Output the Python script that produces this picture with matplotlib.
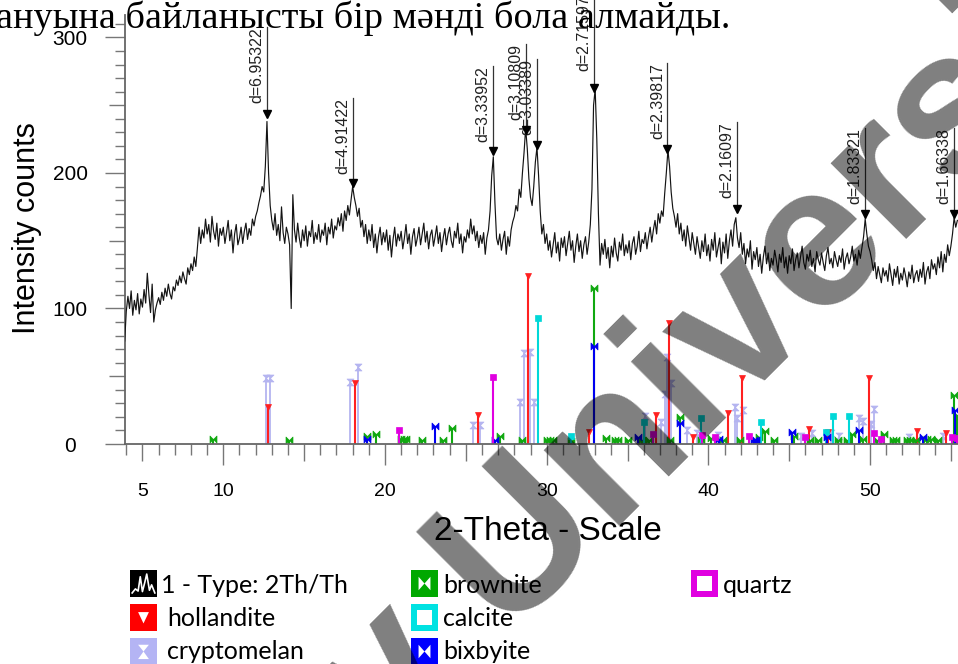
import numpy as np
import matplotlib
matplotlib.use('Agg')
import matplotlib.pyplot as plt
from matplotlib.path import Path
from matplotlib.patches import Rectangle, Polygon

# ------------------------------------------------------------------ data
scan_start, scan_step = 3.9, 0.1
intensity = [76,
    98, 109, 100, 113, 95, 106, 99, 111, 96, 107,      # 4
    101, 114, 104, 126, 110, 97, 118, 90, 99, 104,     # 5
    108, 103, 112, 106, 115, 109, 118, 111, 107, 116,  # 6
    113, 121, 117, 124, 119, 127, 122, 118, 130, 125,  # 7
    133, 128, 138, 131, 145, 160, 148, 158, 152, 166,  # 8
    155, 162, 149, 168, 157, 151, 163, 146, 159, 154,  # 9
    160, 148, 156, 165, 150, 158, 141, 155, 162, 147,  # 10
    152, 160, 148, 157, 163, 151, 159, 154, 166, 161,  # 11
    168, 172, 178, 183, 190, 186, 205, 238, 200, 176,  # 12
    165, 158, 170, 154, 162, 150, 175, 156, 148, 160,  # 13
    155, 147, 100, 184, 158, 149, 163, 152, 145, 158,  # 14
    150, 161, 146, 157, 153, 165, 148, 156, 151, 162,  # 15
    149, 158, 154, 163, 147, 160, 155, 166, 152, 161,  # 16
    158, 167, 161, 170, 157, 172, 165, 176, 169, 180,  # 17
    190, 182, 176, 168, 174, 160, 165, 153, 162, 148,  # 18
    158, 150, 162, 145, 155, 141, 153, 160, 147, 156,  # 19
    149, 158, 143, 154, 138, 151, 160, 146, 155, 150,  # 20
    157, 144, 152, 162, 148, 155, 140, 153, 159, 146,  # 21
    152, 160, 147, 155, 163, 149, 157, 144, 154, 158,  # 22
    146, 153, 161, 148, 156, 142, 152, 159, 147, 155,  # 23
    160, 150, 145, 157, 152, 163, 148, 155, 141, 153,  # 24
    149, 158, 152, 166, 155, 161, 150, 157, 145, 154,  # 25
    148, 156, 140, 152, 158, 172, 198, 212, 178, 152,  # 26
    147, 155, 143, 151, 157, 140, 153, 146, 158, 164,  # 27
    168, 176, 172, 188, 182, 200, 215, 233, 218, 196,  # 28
    182, 176, 190, 208, 219, 198, 172, 155, 162, 148,  # 29
    155, 143, 150, 138, 147, 156, 141, 149, 135, 152,  # 30
    145, 153, 139, 148, 157, 143, 150, 134, 146, 155,  # 31
    142, 150, 137, 147, 153, 140, 149, 162, 188, 250,  # 32
    262, 225, 170, 132, 148, 140, 151, 137, 145, 130,  # 33
    146, 138, 152, 141, 135, 149, 143, 155, 139, 147,  # 34
    141, 150, 136, 148, 153, 140, 146, 157, 142, 151,  # 35
    148, 156, 144, 153, 160, 149, 158, 165, 155, 170,  # 36
    163, 172, 168, 185, 200, 217, 205, 186, 174, 168,  # 37
    160, 170, 155, 163, 150, 158, 146, 161, 152, 143,  # 38
    156, 148, 140, 153, 145, 137, 150, 142, 155, 139,  # 39
    147, 135, 151, 143, 156, 138, 145, 152, 133, 149,  # 40
    141, 155, 137, 150, 158, 146, 162, 167, 152, 145,  # 41
    156, 140, 148, 133, 144, 138, 150, 129, 142, 136,  # 42
    145, 131, 140, 126, 138, 146, 133, 141, 128, 137,  # 43
    132, 143, 136, 127, 140, 134, 145, 130, 138, 126,  # 44
    139, 133, 144, 128, 136, 141, 130, 138, 146, 134,  # 45
    129, 140, 135, 143, 131, 137, 127, 142, 136, 132,  # 46
    141, 134, 128, 139, 145, 133, 137, 130, 142, 136,  # 47
    131, 139, 134, 144, 129, 137, 141, 133, 138, 146,  # 48
    135, 140, 132, 143, 137, 145, 153, 166, 155, 146,  # 49
    142, 136, 128, 134, 122, 131, 125, 119, 130, 124,  # 50
    128, 120, 133, 125, 117, 129, 123, 131, 118, 126,  # 51
    121, 130, 124, 116, 127, 122, 132, 119, 125, 128,  # 52
    120, 129, 123, 134, 118, 127, 131, 122, 136, 129,  # 53
    133, 125, 138, 130, 142, 127, 140, 134, 147, 139,  # 54
    146, 155, 167, 160, 165]                           # 55
two_theta = np.round(scan_start + scan_step * np.arange(len(intensity)), 2)

# reference patterns (2-theta, relative intensity)
hollandite_pos = [12.78, 18.14, 25.73, 28.86, 32.64, 36.74, 37.58, 39.08, 41.24, 42.07,
                  46.2, 47.43, 49.95, 52.88, 54.71]
hollandite_int = [27.5, 45, 21.6, 124, 9, 21.6, 89, 5.5, 22.6, 49, 11, 8.5, 49, 9.3, 8]

cryptomelan_pos = [12.62, 12.89, 17.84, 18.31, 25.46, 25.87, 28.35, 28.6, 28.97, 29.21,
                   36.1, 37.1, 37.32, 37.42, 37.67, 38.67, 39.3, 40.6, 41.65, 41.75,
                   42.17, 45.7, 46.4, 47.6, 48.1, 49.33, 49.58, 50.05, 50.26, 52.4, 54.5]
cryptomelan_int = [49, 49, 46, 56.5, 14, 14, 31, 67, 68, 31,
                   20.4, 16.4, 37, 64, 45, 10, 8, 7, 27, 19,
                   25, 6, 8, 8, 6, 19, 17, 15, 25.8, 5, 6]

brownite_pos = [9.38, 14.08, 18.87, 19.42, 21.0, 21.15, 21.3, 22.27, 23.6, 24.16,
                27.11, 28.45, 30.0, 30.2, 30.4, 31.5, 32.93, 33.67, 34.25, 34.4,
                35.06, 35.9, 36.3, 37.6, 38.25, 39.54, 40.15, 40.9, 41.95, 43.14,
                43.52, 44.06, 45.3, 46.3, 46.8, 48.0, 48.6, 48.9, 49.58, 50.4,
                50.87, 51.4, 51.6, 52.3, 52.5, 52.84, 53.5, 53.8, 54.2, 55.2, 55.4]
brownite_int = [4, 3, 6, 7.5, 4, 4, 4, 3, 3, 12,
                6, 3, 3, 3, 3, 2, 115, 4.5, 3, 3,
                3, 3, 3, 3, 20, 3, 4.5, 3, 3, 5,
                9.3, 3, 6, 3, 3, 3, 3, 7.5, 4, 3,
                7.5, 3, 3, 3, 3, 3, 4, 4, 3, 36.5, 21.6]

calcite_pos = [29.48, 31.5, 36.04, 39.54, 43.23, 47.3, 47.70, 48.69]
calcite_int = [93, 6, 16, 19.4, 16.4, 9, 20.3, 20.3]

bixbyite_pos = [18.87, 23.11, 26.8, 32.93, 35.63, 38.25, 40.68, 42.85, 42.95, 45.15,
                47.33, 49.33, 53.25, 55.25]
bixbyite_int = [4, 13.5, 3, 72, 5, 15.5, 4, 3, 3, 8.6, 5, 10.3, 5, 25.3]

quartz_pos = [20.89, 26.70, 36.6, 39.58, 40.40, 42.52, 45.99, 50.24, 50.7, 55.07, 55.4]
quartz_int = [10.6, 49.6, 7.5, 6.9, 5, 5.8, 5, 8, 3.5, 5, 4.5]

# d-spacing peak labels
d_labels = ['d=6.95322', 'd=4.91422', 'd=3.33952', 'd=3.10809', 'd=3.03389',
            'd=2.71597', 'd=2.39817', 'd=2.16097', 'd=1.83321', 'd=1.66338']
d_pos = [12.72, 18.04, 26.67, 28.70, 29.42, 32.95, 37.47, 41.77, 49.70, 55.18]
d_peak = [241, 190, 214, 229, 218, 260, 215, 171, 167, 167]
d_top = [307.5, 255.5, 279, 295.3, 284.2, 331, 281, 237.5, 233.4, 233.4]

legend_labels = ['1 - Type: 2Th/Th', 'hollandite', 'cryptomelan',
                 'brownite', 'calcite', 'bixbyite', 'quartz']

# ------------------------------------------------------------------ figure
W, H = 958, 664
fig = plt.figure(figsize=(W / 100, H / 100), dpi=100)
fig.patch.set_facecolor('white')

ax_l, ax_r, ax_t, ax_b = 125, 958, 15, 444
ax = fig.add_axes([ax_l / W, 1 - ax_b / H, (ax_r - ax_l) / W, (ax_b - ax_t) / H])
ax.set_xlim(3.92, 55.44)
ax.set_ylim(0, 316.6)
ax.patch.set_visible(False)
for s in ['top', 'right']:
    ax.spines[s].set_visible(False)
for s in ['left', 'bottom']:
    ax.spines[s].set_color('#666666')
    ax.spines[s].set_linewidth(1.3)

FONT = ['Liberation Sans', 'DejaVu Sans']

# ticks (drawn as marks outside the axes)
ax.set_xticks([5, 10, 20, 30, 40, 50])
ax.set_xticklabels(['5', '10', '20', '30', '40', '50'])
ax.set_yticks([0, 100, 200, 300])
ax.set_yticklabels(['0', '100', '200', '300'])
ax.tick_params(axis='x', length=0, pad=28, labelsize=14)
ax.tick_params(axis='y', length=0, pad=39.6, labelsize=15)
for lab in ax.get_xticklabels() + ax.get_yticklabels():
    lab.set_family(FONT)
for lab in ax.get_yticklabels():
    lab.set_ha('center')

axh = ax_b - ax_t
axw = ax_r - ax_l
xt = ax.get_xaxis_transform()
for t in range(4, 56):
    L = 21 if t % 10 == 0 else (17 if t % 5 == 0 else 11)
    ax.plot([t, t], [0, -L / axh], transform=xt, clip_on=False,
            color='#777777', lw=1.0, solid_capstyle='butt')
yt = ax.get_yaxis_transform()
for v in range(0, 311, 10):
    L = 20 if v % 100 == 0 else (16 if v % 50 == 0 else 10)
    ax.plot([0, -L / axw], [v, v], transform=yt, clip_on=False,
            color='#777777', lw=1.0, solid_capstyle='butt')

# custom markers
bowtie = Path([(-1, -1), (-1, 1), (0, 0), (-1, -1), (1, -1), (1, 1), (0, 0), (1, -1)],
              [Path.MOVETO, Path.LINETO, Path.LINETO, Path.CLOSEPOLY] * 2)
hourglass = Path([(-1, 1), (1, 1), (0, 0), (-1, 1), (-1, -1), (1, -1), (0, 0), (-1, -1)],
                 [Path.MOVETO, Path.LINETO, Path.LINETO, Path.CLOSEPOLY] * 2)

C_HOL = '#ff2020'
C_CRY = '#b4b4f0'
C_BRO = '#10a810'
C_CAL = '#00d8d8'
C_BIX = '#0000f0'
C_QUA = '#e000e0'

phases = [
    (cryptomelan_pos, cryptomelan_int, C_CRY, hourglass, 5, 1.3, 2.0),
    (hollandite_pos, hollandite_int, C_HOL, 'v', 5, 1.5, 2.1),
    (brownite_pos, brownite_int, C_BRO, bowtie, 5, 1.5, 2.2),
    (calcite_pos, calcite_int, C_CAL, 's', 4.5, 1.5, 2.3),
    (bixbyite_pos, bixbyite_int, C_BIX, bowtie, 5, 1.5, 2.4),
    (quartz_pos, quartz_int, C_QUA, 's', 4.5, 1.5, 2.5),
]
for pos, inten, col, mk, ms, lw, z in phases:
    ax.vlines(pos, 0, inten, colors=col, lw=lw, zorder=z)
    ax.plot(pos, inten, linestyle='none', marker=mk, ms=ms, color=col,
            markeredgewidth=0.5, zorder=z + 0.05)

# measured scan
ax.plot(two_theta, intensity, color='#141414', lw=0.85, zorder=3)

# d-spacing annotations
for lab, p, pk, tp in zip(d_labels, d_pos, d_peak, d_top):
    ax.plot([p, p], [pk, tp], color='#333333', lw=0.9, clip_on=False, zorder=4)
    ax.plot([p], [pk + 2.5], marker='v', ms=6, color='black', clip_on=False, zorder=4.1)
    ax.annotate(lab, xy=(p, tp), xytext=(-1.8, 0), textcoords='offset points',
                rotation=90, ha='right', va='top', fontsize=11.5, family=FONT,
                color='#222222', annotation_clip=False, zorder=4)

# ------------------------------------------------------------------ overlay (pixel coords)
ov = fig.add_axes([0, 0, 1, 1])
ov.set_xlim(0, W)
ov.set_ylim(H, 0)
ov.axis('off')
ov.patch.set_visible(False)
ov.set_zorder(5)

ov.text(548, 532, '2-Theta - Scale', ha='center', va='center', fontsize=24, family=FONT)
ov.text(27, 228, 'Intensity counts', rotation=90, ha='center', va='center',
        fontsize=22, family=FONT)

# top line of page text (cut by the top edge)
ov.text(-4, 28, 'ануына байланысты бір мәнді бола алмайды.', ha='left', va='baseline',
        fontsize=27.5, family=['Liberation Serif', 'DejaVu Serif'], color='black')

# legend
S = 27


def icon(x0, y0, col, kind):
    ov.add_patch(Rectangle((x0, y0), S, S, facecolor=col, edgecolor='none'))
    if kind == 'scan':
        px = [0.08, 0.2, 0.3, 0.38, 0.46, 0.55, 0.62, 0.72, 0.8, 0.92]
        py = [0.85, 0.7, 0.78, 0.25, 0.8, 0.45, 0.15, 0.75, 0.55, 0.85]
        ov.plot([x0 + a * S for a in px], [y0 + b * S for b in py], color='white', lw=1.2)
    elif kind == 'tri':
        ov.add_patch(Polygon([(x0 + 0.3 * S, y0 + 0.3 * S), (x0 + 0.7 * S, y0 + 0.3 * S),
                              (x0 + 0.5 * S, y0 + 0.72 * S)], facecolor='white', edgecolor='none'))
    elif kind == 'hour':
        ov.add_patch(Polygon([(x0 + 0.3 * S, y0 + 0.25 * S), (x0 + 0.7 * S, y0 + 0.25 * S),
                              (x0 + 0.5 * S, y0 + 0.5 * S), (x0 + 0.7 * S, y0 + 0.78 * S),
                              (x0 + 0.3 * S, y0 + 0.78 * S), (x0 + 0.5 * S, y0 + 0.5 * S)],
                             facecolor='white', edgecolor='none'))
    elif kind == 'bow':
        ov.add_patch(Polygon([(x0 + 0.28 * S, y0 + 0.25 * S), (x0 + 0.5 * S, y0 + 0.5 * S),
                              (x0 + 0.72 * S, y0 + 0.25 * S), (x0 + 0.72 * S, y0 + 0.75 * S),
                              (x0 + 0.5 * S, y0 + 0.5 * S), (x0 + 0.28 * S, y0 + 0.75 * S)],
                             facecolor='white', edgecolor='none'))
    elif kind == 'sq':
        ov.add_patch(Rectangle((x0 + 0.22 * S, y0 + 0.22 * S), 0.56 * S, 0.56 * S,
                               facecolor='white', edgecolor='none'))


LFONT = ['Lato', 'DejaVu Sans']
legend_items = [
    (130, 570, 'black', 'scan', 161, 593),
    (130, 604, '#ff0000', 'tri', 167, 626),
    (130, 638, '#b4b4f4', 'hour', 167, 659),
    (411, 570, '#00a800', 'bow', 443, 593),
    (411, 604, '#00e2e2', 'sq', 443, 626),
    (411, 638, '#0000ff', 'bow', 443, 659),
    (691, 570, '#e000e0', 'sq', 723, 593),
]
for lab, (x0, y0, col, kind, tx, ty) in zip(legend_labels, legend_items):
    icon(x0, y0, col, kind)
    ov.text(tx, ty, lab, ha='left', va='baseline', fontsize=18, family=LFONT)

# watermark
ov.text(387, 758, 'v University', rotation=45, rotation_mode='anchor', ha='left',
        va='baseline', fontsize=146, fontweight='bold', color='black', alpha=0.5,
        family=FONT, zorder=10)

fig.savefig('out.png', dpi=100)
